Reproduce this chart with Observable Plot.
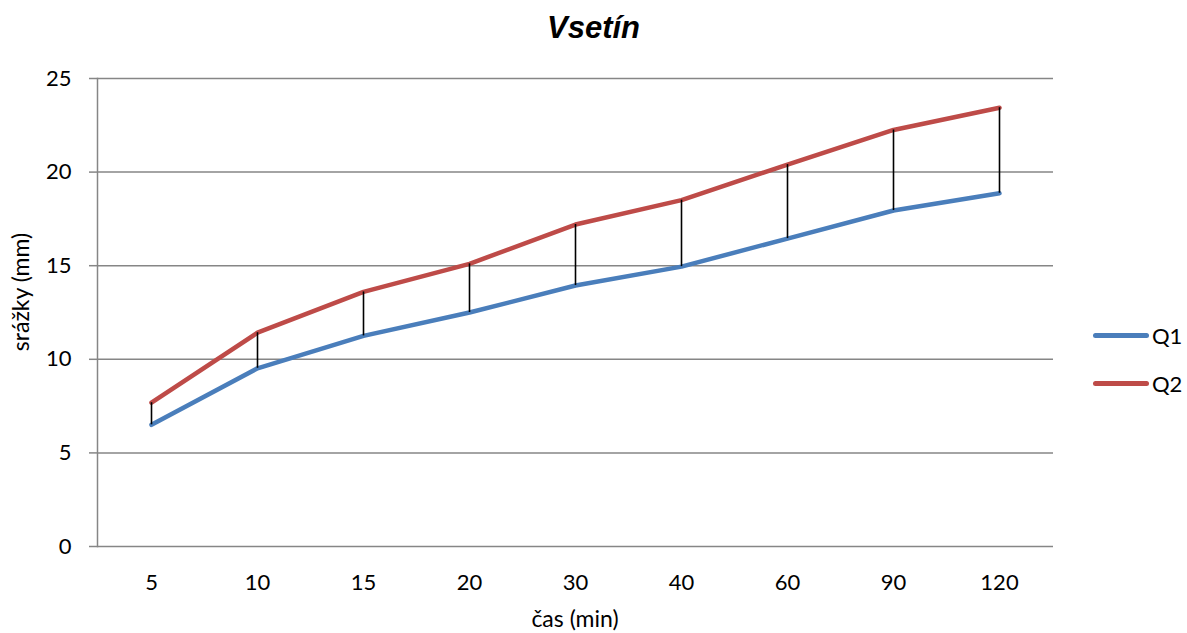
<!DOCTYPE html>
<html>
<head>
<meta charset="utf-8">
<script src="https://cdn.jsdelivr.net/npm/d3@7"></script>
<script src="https://cdn.jsdelivr.net/npm/@observablehq/plot@0.6"></script>
<style>
  body { margin: 0; background: #fff; }
  #wrap { position: relative; width: 1187px; height: 633px; font-family: Lato, "Open Sans", sans-serif; }
  #title { height: 45px; padding-top: 10px; line-height: 34px; text-align: center; font: italic bold 31px "Liberation Sans", Arial, sans-serif; color: #000; }
  .leg { position: absolute; left: 1093px; font-size: 22px; color: #000; display: flex; align-items: center; }
  .leg span.sw { display: inline-block; width: 56px; height: 5px; border-radius: 3px; margin-right: 3px; }
</style>
</head>
<body>
<div id="wrap">
  <div id="title">Vsetín</div>
  <div id="chart"></div>
  <div id="legend"></div>
</div>
<script>
const categories = ["5", "10", "15", "20", "30", "40", "60", "90", "120"];
const q1 = [6.5, 9.52, 11.25, 12.5, 13.94, 14.95, 16.45, 17.95, 18.87];
const q2 = [7.68, 11.42, 13.6, 15.1, 17.2, 18.5, 20.4, 22.25, 23.44];
const yTicks = [0, 5, 10, 15, 20, 25];
const seriesNames = ["Q1", "Q2"];
const seriesColors = ["#4a7ebb", "#be4b48"];

const data = categories.map((t, i) => ({t, q1: q1[i], q2: q2[i]}));

const W = 1187, H = 578, mL = 97, mR = 134, mT = 23, mB = 87;

const plot = Plot.plot({
  width: W,
  height: H,
  marginLeft: mL,
  marginRight: mR,
  marginTop: mT,
  marginBottom: mB,
  style: {fontFamily: "Lato, 'Open Sans', sans-serif", fontSize: "22px", color: "#000", background: "#fff"},
  x: {type: "point", domain: categories, padding: 0.5},
  y: {domain: [0, 25]},
  marks: [
    Plot.gridY(yTicks, {stroke: "#868686", strokeOpacity: 1, strokeWidth: 1.5}),
    Plot.frame({anchor: "left", stroke: "#868686", strokeWidth: 1.5}),
    Plot.axisY(yTicks, {tickSize: 8, tickPadding: 18, stroke: "#868686", strokeWidth: 1.5, label: null, fill: "#000"}),
    Plot.axisX({tickSize: 0, tickPadding: 28, label: null, fill: "#000"}),
    Plot.lineY(data, {x: "t", y: "q1", stroke: seriesColors[0], strokeWidth: 4.5, strokeLinecap: "round", strokeLinejoin: "round"}),
    Plot.lineY(data, {x: "t", y: "q2", stroke: seriesColors[1], strokeWidth: 4.5, strokeLinecap: "round", strokeLinejoin: "round"}),
    Plot.ruleX(data, {x: "t", y1: "q1", y2: "q2", stroke: "#000", strokeWidth: 1.6})
  ]
});

const svg = d3.select(plot);
svg.append("text")
  .attr("x", 575).attr("y", H - 6)
  .attr("text-anchor", "middle")
  .attr("font-size", 23)
  .attr("fill", "#000")
  .text("čas (min)");
svg.append("text")
  .attr("transform", `translate(29, ${292 - 55}) rotate(-90)`)
  .attr("text-anchor", "middle")
  .attr("font-size", 23)
  .attr("fill", "#000")
  .text("srážky (mm)");

document.getElementById("chart").appendChild(plot);

const legend = document.getElementById("legend");
const legendY = [335, 383];
seriesNames.forEach((name, i) => {
  const row = document.createElement("div");
  row.className = "leg";
  row.style.top = (legendY[i] - 13) + "px";
  row.style.height = "26px";
  row.innerHTML = `<span class="sw" style="background:${seriesColors[i]}"></span><span>${name}</span>`;
  legend.appendChild(row);
});
</script>
</body>
</html>
